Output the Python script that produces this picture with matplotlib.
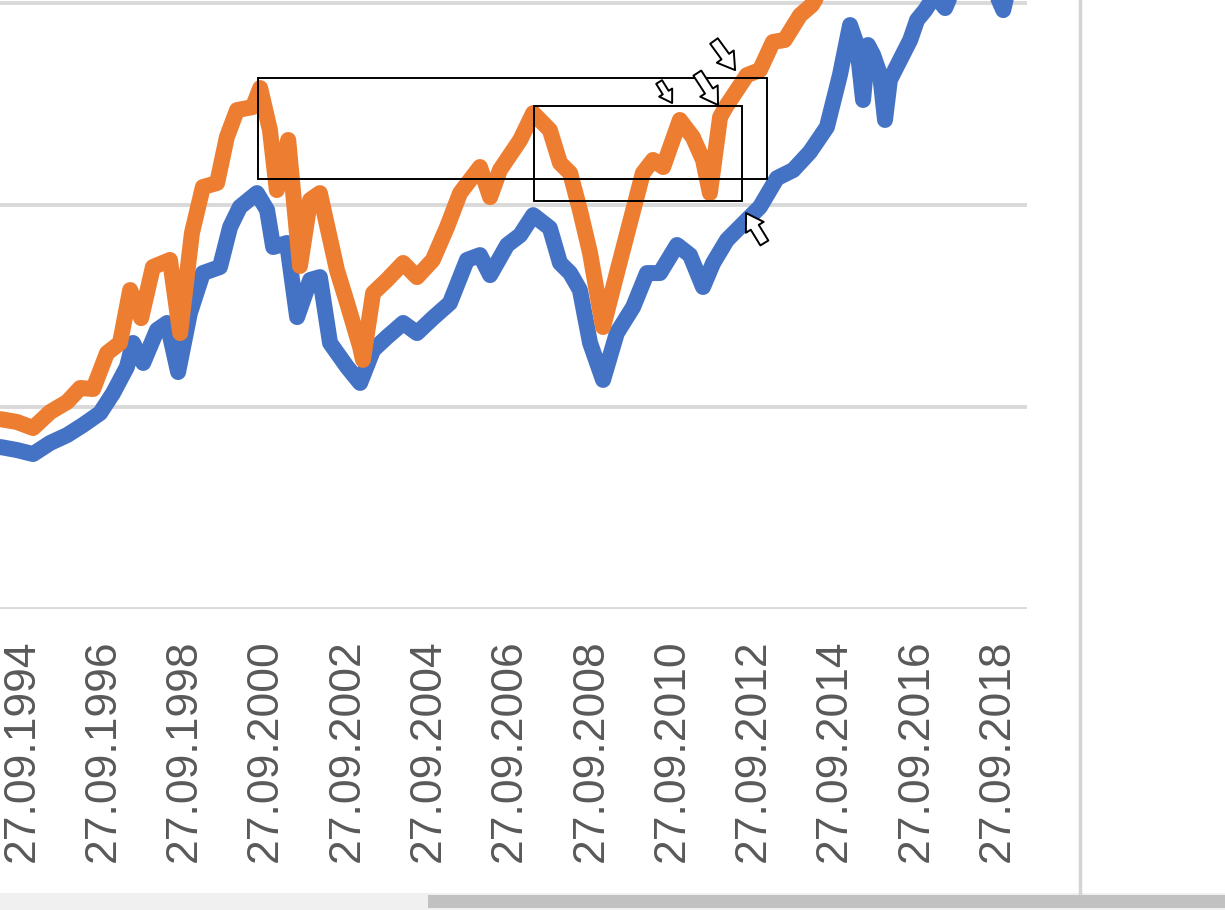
import matplotlib
matplotlib.use("Agg")
import matplotlib.pyplot as plt
from matplotlib.patches import Rectangle

# dates as decimal years
blue_years = [1994.20, 1994.61, 1995.01, 1995.43, 1995.85, 1996.24, 1996.66, 1996.98, 1997.32, 1997.47,
              1997.72, 1998.06, 1998.31, 1998.58, 1998.87, 1999.19, 1999.61, 1999.86, 2000.10, 2000.52,
              2000.77, 2000.92, 2001.26, 2001.51, 2001.83, 2002.07, 2002.32, 2002.74, 2003.06, 2003.38,
              2003.72, 2004.12, 2004.46, 2004.85, 2005.27, 2005.69, 2006.01, 2006.26, 2006.68, 2007.00,
              2007.32, 2007.73, 2007.98, 2008.23, 2008.47, 2008.72, 2009.04, 2009.38, 2009.78, 2010.12,
              2010.44, 2010.86, 2011.18, 2011.50, 2011.75, 2012.09, 2012.58, 2012.90, 2013.32, 2013.72,
              2014.13, 2014.55, 2014.87, 2015.12, 2015.29, 2015.44, 2015.56, 2015.69, 2015.86, 2015.98,
              2016.10, 2016.35, 2016.60, 2016.77, 2016.97, 2017.21, 2017.46, 2017.70, 2018.20, 2018.57,
              2018.89, 2019.06]
blue_values = [802, 787, 767, 822, 861, 911, 970, 1069, 1198, 1317,
               1218, 1381, 1416, 1173, 1465, 1663, 1693, 1891, 1990, 2059,
               1975, 1792, 1812, 1445, 1629, 1643, 1317, 1198, 1119, 1282,
               1346, 1416, 1366, 1440, 1515, 1728, 1752, 1653, 1802, 1851,
               1950, 1886, 1713, 1663, 1579, 1317, 1134, 1366, 1495, 1663,
               1663, 1802, 1752, 1594, 1713, 1827, 1926, 1990, 2133, 2173,
               2262, 2386, 2643, 2891, 2792, 2520, 2792, 2742, 2643, 2421,
               2619, 2718, 2817, 2916, 2965, 3039, 2975, 3089, 3039, 3114,
               2965, 3114]

orange_years = [1994.20, 1994.61, 1995.01, 1995.43, 1995.85, 1996.17, 1996.49, 1996.83, 1997.15, 1997.40,
                1997.67, 1997.96, 1998.38, 1998.63, 1998.92, 1999.19, 1999.54, 1999.78, 2000.03, 2000.42,
                2000.60, 2000.84, 2001.01, 2001.29, 2001.58, 2001.83, 2002.07, 2002.49, 2002.74, 2003.06,
                2003.13, 2003.38, 2003.72, 2004.12, 2004.46, 2004.85, 2005.20, 2005.52, 2006.01, 2006.26,
                2006.50, 2007.00, 2007.32, 2007.73, 2007.98, 2008.23, 2008.47, 2008.72, 2009.04, 2009.38,
                2009.70, 2010.02, 2010.27, 2010.52, 2010.93, 2011.25, 2011.50, 2011.67, 2011.92, 2012.09,
                2012.58, 2012.90, 2013.22, 2013.51, 2013.89, 2014.18, 2014.43]
orange_values = [940, 926, 896, 975, 1025, 1094, 1089, 1267, 1317, 1579,
                 1440, 1693, 1728, 1366, 1861, 2089, 2109, 2336, 2470, 2485,
                 2579, 2371, 2074, 2322, 1698, 2025, 2059, 1678, 1515, 1297,
                 1233, 1564, 1629, 1713, 1643, 1728, 1891, 2059, 2188, 2039,
                 2173, 2322, 2455, 2371, 2208, 2158, 1975, 1762, 1396, 1663,
                 1911, 2158, 2223, 2188, 2421, 2336, 2223, 2059, 2435, 2495,
                 2643, 2668, 2807, 2817, 2940, 2990, 3074]

tick_years = [1994.737 + 2 * k for k in range(13)]
tick_labels = ["27.09." + str(1994 + 2 * k) for k in range(13)]

# boxes drawn over the chart: (start, end, low, high)
boxes = [(2000.55, 2013.07, 2129, 2628),
         (2007.34, 2012.46, 2020, 2490)]
# hollow arrows: (tail x, tail y, tip x, tip y, size)
arrows = [(2011.77, 2812, 2012.29, 2668, 15),
          (2010.42, 2609, 2010.74, 2505, 11),
          (2011.36, 2653, 2011.87, 2495, 15),
          (2013.01, 1812, 2012.56, 1960, 15)]

fig = plt.figure(figsize=(12.25, 9.1), dpi=100)
ax = fig.add_axes([0, 0.3308, 0.8384, 0.6692])

for y in [0, 1000, 2000, 3000]:
    ax.axhline(y, color="#d9d9d9", lw=2.8, zorder=1)

ax.plot(blue_years, blue_values, color="#4472C4", lw=11.5,
        solid_joinstyle="round", solid_capstyle="round", zorder=2)
ax.plot(orange_years, orange_values, color="#ED7D31", lw=11.5,
        solid_joinstyle="round", solid_capstyle="round", zorder=3)

for x0, x1, lo, hi in boxes:
    ax.add_patch(Rectangle((x0, lo), x1 - x0, hi - lo, fill=False,
                           ec="black", lw=1.4, zorder=4))

for tx, ty, hx, hy, s in arrows:
    ax.annotate("", xy=(hx, hy), xytext=(tx, ty),
                arrowprops=dict(arrowstyle="simple,head_length=0.8,head_width=1.0,tail_width=0.45",
                                fc="white", ec="black", lw=1.4, mutation_scale=s,
                                shrinkA=0, shrinkB=0), zorder=5)

ax.set_xlim(1994.196, 2019.476)
ax.set_ylim(0, 3015)
ax.set_xticks(tick_years)
ax.set_xticklabels(tick_labels, rotation=90, fontsize=32, color="#595959",
                   family="Liberation Sans")
ax.tick_params(axis="x", length=0, pad=22)
ax.set_yticks([])
for s in ax.spines.values():
    s.set_visible(False)

# window frame pieces visible in the screenshot
fig.add_artist(plt.Line2D([1080 / 1225, 1080 / 1225], [17 / 910, 1], color="#d4d4d4", lw=2.5))
fig.add_artist(Rectangle((0, 0), 1, 17 / 910, color="#f0f0f0", lw=0))
fig.add_artist(Rectangle((428 / 1225, 2 / 910), 1, 13 / 910, color="#c1c1c1", lw=0))

fig.savefig("out.png", dpi=100)
